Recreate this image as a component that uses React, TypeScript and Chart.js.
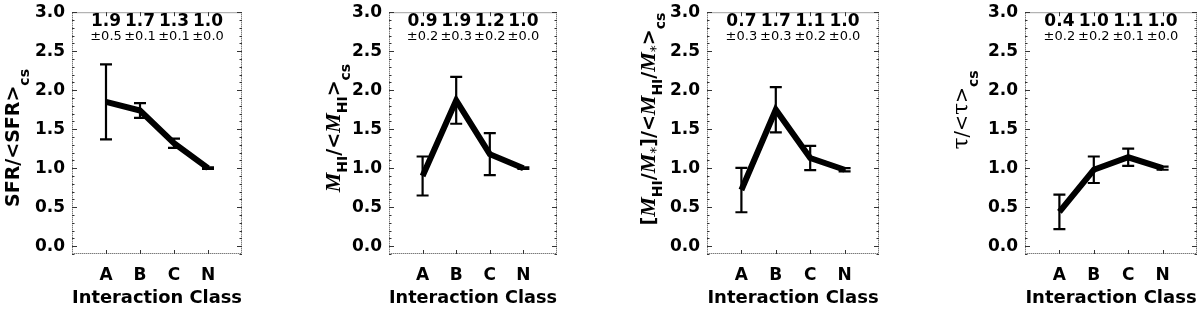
import React, { useEffect, useRef } from "react";
import { Chart, registerables } from "chart.js";

Chart.register(...registerables);

// ---------- data ----------
const categories = ["A", "B", "C", "N"];
const categoryPositions = [1, 2, 3, 4];
const yTickValues = [0, 0.5, 1.0, 1.5, 2.0, 2.5, 3.0];

const sfrMean = [1.85, 1.74, 1.32, 1.0];
const sfrErr = [0.48, 0.095, 0.06, 0.01];
const sfrText = ["1.9", "1.7", "1.3", "1.0"];
const sfrTextErr = ["±0.5", "±0.1", "±0.1", "±0.0"];

const hiMean = [0.9, 1.87, 1.18, 1.0];
const hiErr = [0.25, 0.3, 0.27, 0.01];
const hiText = ["0.9", "1.9", "1.2", "1.0"];
const hiTextErr = ["±0.2", "±0.3", "±0.2", "±0.0"];

const gfMean = [0.72, 1.75, 1.13, 0.98];
const gfErr = [0.285, 0.29, 0.155, 0.02];
const gfText = ["0.7", "1.7", "1.1", "1.0"];
const gfTextErr = ["±0.3", "±0.3", "±0.2", "±0.0"];

const tauMean = [0.44, 0.98, 1.14, 1.0];
const tauErr = [0.22, 0.17, 0.11, 0.02];
const tauText = ["0.4", "1.0", "1.1", "1.0"];
const tauTextErr = ["±0.2", "±0.2", "±0.1", "±0.0"];

// ---------- styling ----------
type Seg = { t: string; font: string; dy?: number };
const SANS = "'DejaVu Sans'";
const mainF = `bold 19px ${SANS}`;
const subF = `bold 14px ${SANS}`;
const mF = "italic bold 22px 'Liberation Serif'";
const tauF = "22px 'DejaVu Serif'";
const thinF = `19px ${SANS}`;

const titleSFR: Seg[] = [
  { t: "SFR/<SFR>", font: mainF },
  { t: "cs", font: subF, dy: 10 },
];
const titleHI: Seg[] = [
  { t: "M", font: mF },
  { t: "HI", font: subF, dy: 7 },
  { t: "/<", font: mainF },
  { t: "M", font: mF },
  { t: "HI", font: subF, dy: 7 },
  { t: ">", font: mainF },
  { t: "cs", font: subF, dy: 10 },
];
const titleGF: Seg[] = [
  { t: "[", font: mainF },
  { t: "M", font: mF },
  { t: "HI", font: subF, dy: 7 },
  { t: "/", font: mainF },
  { t: "M", font: mF },
  { t: "*", font: `14px ${SANS}`, dy: 5 },
  { t: "]/<", font: mainF },
  { t: "M", font: mF },
  { t: "HI", font: subF, dy: 7 },
  { t: "/", font: mainF },
  { t: "M", font: mF },
  { t: "*", font: `14px ${SANS}`, dy: 5 },
  { t: ">", font: mainF },
  { t: "cs", font: subF, dy: 10 },
];
const titleTau: Seg[] = [
  { t: "τ", font: tauF },
  { t: "/<", font: thinF },
  { t: "τ", font: tauF },
  { t: ">", font: thinF },
  { t: "cs", font: subF, dy: 10 },
];

const panels = [
  { mean: sfrMean, err: sfrErr, text: sfrText, textErr: sfrTextErr, title: titleSFR, tx: 19, ty: 143, x0: 0, w: 170 },
  { mean: hiMean, err: hiErr, text: hiText, textErr: hiTextErr, title: titleHI, tx: 23, ty: 133, x0: 317, w: 168 },
  { mean: gfMean, err: gfErr, text: gfText, textErr: gfTextErr, title: titleGF, tx: 20, ty: 124, x0: 635, w: 172 },
  { mean: tauMean, err: tauErr, text: tauText, textErr: tauTextErr, title: titleTau, tx: 15, ty: 115, x0: 953, w: 172 },
];

const CANVAS_H = 316;
const LEFT = 72;
const RIGHT_PAD = 3;
const TOP_PAD = 11;
const AREA_BOTTOM = 259;

const decorPlugin = {
  id: "decor",
  afterDatasetsDraw(chart: any, _args: any, opts: any) {
    const { ctx, chartArea: ca, scales } = chart;
    const xs = scales.x;
    const ys = scales.y;
    ctx.save();
    // error bars
    ctx.strokeStyle = "#000";
    ctx.lineWidth = 2.2;
    opts.mean.forEach((m: number, i: number) => {
      const px = xs.getPixelForValue(categoryPositions[i]);
      const top = ys.getPixelForValue(m + opts.err[i]);
      const bot = ys.getPixelForValue(m - opts.err[i]);
      ctx.beginPath();
      ctx.moveTo(px, top);
      ctx.lineTo(px, bot);
      ctx.moveTo(px - 6, top);
      ctx.lineTo(px + 6, top);
      ctx.moveTo(px - 6, bot);
      ctx.lineTo(px + 6, bot);
      ctx.stroke();
    });
    // box
    ctx.lineWidth = 1;
    ctx.strokeStyle = "#444";
    ctx.setLineDash([1, 1]);
    ctx.strokeRect(ca.left + 0.5, ca.top + 0.5, ca.width - 1, ca.height - 1);
    ctx.setLineDash([]);
    ctx.strokeStyle = "#333";
    // y ticks (major + minor) on both sides, inward
    ctx.beginPath();
    for (let k = -1; k <= 30; k++) {
      const v = k / 10;
      const py = Math.round(ys.getPixelForValue(v)) + 0.5;
      const major = k % 5 === 0;
      const len = major ? 5 : 2.5;
      ctx.moveTo(ca.left, py);
      ctx.lineTo(ca.left + len, py);
      ctx.moveTo(ca.right, py);
      ctx.lineTo(ca.right - len, py);
    }
    categoryPositions.forEach((p) => {
      const px = Math.round(xs.getPixelForValue(p)) + 0.5;
      ctx.moveTo(px, ca.bottom);
      ctx.lineTo(px, ca.bottom - 4);
      ctx.moveTo(px, ca.top);
      ctx.lineTo(px, ca.top + 4);
    });
    ctx.stroke();
    // values at the top
    ctx.fillStyle = "#000";
    ctx.textAlign = "center";
    ctx.textBaseline = "alphabetic";
    categoryPositions.forEach((p, i) => {
      const px = xs.getPixelForValue(p);
      ctx.font = `bold 17px ${SANS}`;
      ctx.fillText(opts.text[i], px, 31);
      ctx.font = `13px ${SANS}`;
      ctx.fillText(opts.textErr[i], px, 45);
    });
    // y-axis title (rich text, rotated)
    const segs: Seg[] = opts.title;
    let total = 0;
    const widths = segs.map((s) => {
      ctx.font = s.font;
      const w = ctx.measureText(s.t).width;
      total += w;
      return w;
    });
    ctx.translate(opts.tx, opts.ty);
    ctx.rotate(-Math.PI / 2);
    ctx.textAlign = "left";
    let x = -total / 2;
    segs.forEach((s, i) => {
      ctx.font = s.font;
      ctx.fillText(s.t, x, s.dy || 0);
      x += widths[i];
    });
    ctx.restore();
  },
};

function Panel({ p }: { p: (typeof panels)[number] }) {
  const ref = useRef<HTMLCanvasElement | null>(null);
  const width = LEFT + p.w + RIGHT_PAD;
  useEffect(() => {
    if (!ref.current) return;
    const chart = new Chart(ref.current, {
      type: "line",
      data: {
        datasets: [
          {
            data: p.mean.map((m, i) => ({ x: categoryPositions[i], y: m })),
            borderColor: "#000",
            borderWidth: 6,
            pointRadius: 0,
            tension: 0,
            fill: false,
            borderJoinStyle: "miter",
          },
        ],
      },
      options: {
        responsive: false,
        animation: false,
        events: [],
        layout: { padding: { left: 0, right: RIGHT_PAD, top: TOP_PAD, bottom: 0 } },
        plugins: {
          legend: { display: false },
          tooltip: { enabled: false },
          decor: {
            mean: p.mean,
            err: p.err,
            text: p.text,
            textErr: p.textErr,
            title: p.title,
            tx: p.tx,
            ty: p.ty,
          },
        } as any,
        scales: {
          x: {
            type: "linear",
            min: 0,
            max: 5,
            grid: { display: false, drawTicks: false },
            border: { display: false },
            afterBuildTicks: (s: any) => {
              s.ticks = categoryPositions.map((v) => ({ value: v }));
            },
            afterFit: (s: any) => {
              s.height = CANVAS_H - AREA_BOTTOM;
            },
            ticks: {
              autoSkip: false,
              maxRotation: 0,
              padding: 11,
              color: "#000",
              font: { family: "DejaVu Sans", weight: "bold", size: 17 },
              callback: (v: any) => categories[categoryPositions.indexOf(Number(v))] ?? "",
            },
            title: {
              display: true,
              text: "Interaction Class",
              color: "#000",
              font: { family: "DejaVu Sans", weight: "bold", size: 18 },
              padding: { top: 0, bottom: 2 },
            },
          },
          y: {
            type: "linear",
            min: -0.1,
            max: 3.0,
            grid: { display: false, drawTicks: false },
            border: { display: false },
            afterBuildTicks: (s: any) => {
              s.ticks = yTickValues.map((v) => ({ value: v }));
            },
            afterFit: (s: any) => {
              s.width = LEFT;
            },
            ticks: {
              padding: 7,
              color: "#000",
              font: { family: "DejaVu Sans", weight: "bold", size: 17 },
              callback: (v: any) => Number(v).toFixed(1),
            },
          },
        },
      },
      plugins: [decorPlugin as any],
    });
    return () => chart.destroy();
  }, []);
  return (
    <canvas
      ref={ref}
      width={width}
      height={CANVAS_H}
      style={{ position: "absolute", left: p.x0, top: -5, width, height: CANVAS_H }}
    />
  );
}

export default function App() {
  return (
    <div
      style={{
        position: "absolute",
        left: 0,
        top: 0,
        width: 1200,
        height: 311,
        overflow: "hidden",
        background: "#fff",
      }}
    >
      {panels.map((p, i) => (
        <Panel key={i} p={p} />
      ))}
    </div>
  );
}
